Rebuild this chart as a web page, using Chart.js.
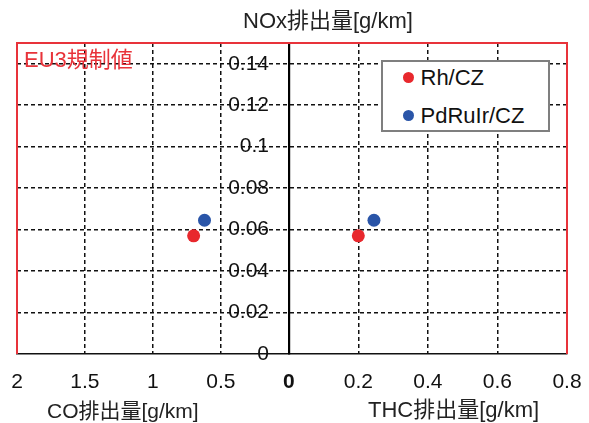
<!DOCTYPE html>
<html>
<head>
<meta charset="utf-8">
<script src="https://cdn.jsdelivr.net/npm/chart.js@4.4.0/dist/chart.umd.min.js"></script>
<style>
html,body{margin:0;padding:0;background:#fff;}
#wrap{position:relative;width:589px;height:423px;overflow:hidden;font-family:"Liberation Sans","Noto Sans CJK JP",sans-serif;}
#c{position:absolute;left:0;top:0;}
.t{position:absolute;white-space:nowrap;color:#222;font-size:22px;line-height:1;}
#eu3{color:#e8333a;font-size:22px;}
#legend{position:absolute;left:381px;top:60px;width:169px;height:72px;box-sizing:border-box;border:2.5px solid #7f7f7f;background:#fff;}
.lrow{position:absolute;left:0;white-space:nowrap;font-size:22px;line-height:1;color:#111;}
.ldot{position:absolute;width:11px;height:11px;border-radius:50%;}
</style>
</head>
<body>
<div id="wrap">
<canvas id="c" width="589" height="423"></canvas>
<div class="t" id="tNox" style="left:243px;top:10px;">NOx排出量[g/km]</div>
<div class="t" id="tCo" style="left:47px;top:399.5px;font-size:21px;">CO排出量[g/km]</div>
<div class="t" id="tThc" style="left:368px;top:399px;">THC排出量[g/km]</div>
<div class="t" id="eu3" style="left:24px;top:48.5px;">EU3規制値</div>
<div id="legend"></div>
</div>
<script>
// ---- data ----
const seriesNames = ['Rh/CZ', 'PdRuIr/CZ'];
const coValues   = [0.70, 0.62];    // CO emission [g/km]
const thcValues  = [0.20, 0.245];   // THC emission [g/km]
const noxValues  = [0.057, 0.0645]; // NOx emission [g/km]
const coTickLabels  = ['2', '1.5', '1', '0.5'];
const thcTickLabels = ['0.2', '0.4', '0.6', '0.8'];
const noxTicks = [0, 0.02, 0.04, 0.06, 0.08, 0.1, 0.12, 0.14];
const CO_MAX = 2, THC_MAX = 0.8, NOX_MAX = 0.15;

// ---- styles / mapping ----
const colors = ['#e8282d', '#2a55a8'];
const FONT = '"Liberation Sans", "Noto Sans CJK JP", sans-serif';
const DASH = [4, 3];
const RIGHT_SPAN = 1.024; // right half width relative to left half
const coToX  = v => -v / CO_MAX;
const thcToX = v => v / THC_MAX * RIGHT_SPAN;

const xTickValues = [...coTickLabels.map(s => coToX(parseFloat(s))), 0, ...thcTickLabels.map(s => thcToX(parseFloat(s)))];
const xTickLabels = [...coTickLabels, '0', ...thcTickLabels];

const frame = {
  id: 'frame',
  beforeDatasetsDraw(chart) {
    const {ctx, chartArea: a} = chart;
    ctx.save();
    ctx.strokeStyle = '#e8333a';
    ctx.lineWidth = 2;
    ctx.beginPath();
    ctx.moveTo(a.left, a.bottom);
    ctx.lineTo(a.left, a.top);
    ctx.lineTo(a.right, a.top);
    ctx.lineTo(a.right, a.bottom);
    ctx.stroke();
    ctx.restore();
  }
};

const chart = new Chart(document.getElementById('c'), {
  type: 'scatter',
  data: {
    datasets: seriesNames.map((name, i) => ({
      label: name,
      data: [{x: coToX(coValues[i]), y: noxValues[i]}, {x: thcToX(thcValues[i]), y: noxValues[i]}],
      backgroundColor: colors[i],
      borderColor: colors[i],
      borderWidth: 0,
      pointRadius: 6.5,
      pointHoverRadius: 6.5
    }))
  },
  options: {
    responsive: false,
    animation: false,
    events: [],
    layout: {padding: {left: 17, right: 22, top: 43, bottom: 0}},
    plugins: {legend: {display: false}, tooltip: {enabled: false}, title: {display: false}},
    scales: {
      x: {
        type: 'linear', min: -1, max: RIGHT_SPAN, position: 'bottom',
        afterBuildTicks: s => { s.ticks = xTickValues.map(v => ({value: v})); },
        afterFit: s => { s.height = 69; s.paddingLeft = 0; s.paddingRight = 0; },
        ticks: {
          autoSkip: false, maxRotation: 0, padding: 16, color: '#111',
          font: c => ({family: FONT, size: 21, weight: (c.tick && c.tick.value === 0) ? 'bold' : 'normal'}),
          callback: (v, i) => xTickLabels[i]
        },
        grid: {
          drawTicks: false, lineWidth: 1.5,
          color: c => (c.tick && (c.index === 0 || c.index === xTickValues.length - 1 || c.tick.value === 0)) ? 'rgba(0,0,0,0)' : '#111'
        },
        border: {display: true, color: '#111', width: 1.5, dash: DASH}
      },
      y: {
        type: 'linear', min: 0, max: NOX_MAX, position: {x: 0},
        afterBuildTicks: s => { s.ticks = noxTicks.map(v => ({value: v})); },
        ticks: {display: false},
        grid: {drawTicks: false, lineWidth: 1.5, color: c => (c.tick && c.tick.value === 0) ? 'rgba(0,0,0,0)' : '#111'},
        border: {display: true, color: '#000', width: 2.2, dash: DASH}
      },
      yLab: {
        type: 'linear', min: 0, max: NOX_MAX, position: {x: -0.0725},
        afterBuildTicks: s => { s.ticks = noxTicks.map(v => ({value: v})); },
        ticks: {display: true, color: '#111', font: {family: FONT, size: 21}, padding: 0,
                callback: v => String(+v.toFixed(2))},
        grid: {display: false, drawTicks: false},
        border: {display: false}
      }
    }
  },
  plugins: [frame]
});

// HTML legend built from datasets
const lg = document.getElementById('legend');
chart.data.datasets.forEach((ds, i) => {
  const top = 4.7 + i * 38.5;
  const dot = document.createElement('div');
  dot.className = 'ldot';
  dot.style.background = ds.backgroundColor;
  dot.style.left = (409 - 381 - 2.5 - 5.5) + 'px';
  dot.style.top = (77.5 + i * 38.5 - 62.5 - 5.5) + 'px';
  lg.appendChild(dot);
  const row = document.createElement('div');
  row.className = 'lrow';
  row.style.left = (421 - 381 - 2.5) + 'px';
  row.style.top = top + 'px';
  row.textContent = ds.label;
  lg.appendChild(row);
});
</script>
</body>
</html>
